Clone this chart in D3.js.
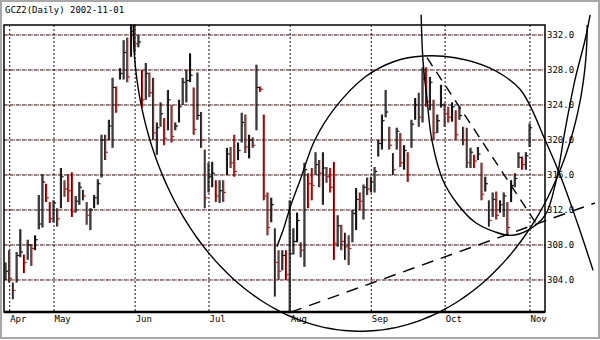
<!DOCTYPE html>
<html>
<head>
<meta charset="utf-8">
<script src="https://cdn.jsdelivr.net/npm/d3@7"></script>
<style>
  body { margin: 0; background: #fff; }
  text { font-family: "DejaVu Sans Mono", monospace; }
</style>
</head>
<body>
<div id="chart"></div>
<script>
// GCZ2 daily bars, one entry per trading day (index 0 = last day before the "Apr" line)
const highs = [
  306.0, 307.4, 303.7, 307.2, 309.8, 306.9, 308.6, 308.1, 309.1, 313.7,
  316.1, 315.0, 312.9, 313.1, 312.2, 316.8, 315.4, 316.1, 316.3, 313.6,
  315.2, 314.3, 312.9, 312.2, 313.7, 315.5, 320.6, 320.6, 322.3, 327.1,
  326.1, 328.2, 331.4, 331.7, 333.2, 333.2, 332.0, 328.0, 328.8, 327.7,
  327.1, 322.0, 324.3, 322.5, 325.7, 324.0, 322.0, 324.6, 327.1, 328.0,
  329.9, 326.0, 327.7, 323.2, 318.9, 317.4, 317.5, 315.4, 315.4, 315.4,
  319.1, 319.2, 320.6, 319.7, 323.1, 322.9, 320.6, 320.3, 328.6, 326.1,
  322.9, 314.0, 313.4, 309.9, 307.4, 307.4, 307.4, 313.1, 309.9, 311.7,
  308.3, 317.4, 316.2, 316.8, 318.6, 317.7, 318.6, 316.9, 316.8, 317.5,
  311.4, 310.3, 309.4, 309.1, 312.0, 314.5, 314.0, 314.9, 315.7, 315.8,
  316.9, 320.0, 322.9, 325.7, 321.5, 318.5, 321.4, 320.8, 319.4, 318.6,
  322.3, 324.8, 325.4, 328.3, 328.3, 327.2, 324.6, 322.9, 326.3, 324.2,
  323.8, 324.3, 323.4, 323.8, 321.5, 321.4, 319.1, 318.3, 319.2, 317.4,
  315.8, 313.1, 314.0, 314.1, 313.1, 314.0, 312.9, 315.4, 316.2, 318.6,
  318.1, 318.6, 321.9
];
const lows = [
  304.0, 303.7, 301.8, 303.7, 306.6, 304.8, 306.3, 305.6, 307.4, 309.8,
  310.0, 312.9, 310.5, 310.6, 310.1, 312.2, 313.5, 312.9, 311.2, 311.7,
  312.6, 313.1, 310.3, 309.7, 312.2, 312.6, 315.7, 317.7, 320.0, 319.1,
  323.1, 326.9, 326.9, 326.6, 329.5, 330.0, 330.6, 323.7, 324.6, 324.9,
  320.0, 318.3, 321.5, 319.4, 321.1, 319.7, 321.1, 322.0, 324.0, 324.3,
  326.6, 320.6, 322.3, 319.1, 312.2, 314.0, 314.6, 312.9, 312.8, 312.9,
  316.0, 316.8, 315.8, 317.7, 319.7, 318.5, 317.9, 319.1, 321.1, 325.5,
  313.1, 309.1, 310.6, 302.1, 304.0, 305.1, 304.0, 300.2, 306.9, 308.3,
  306.6, 305.5, 312.2, 313.1, 316.0, 314.6, 312.6, 315.1, 314.0, 306.3,
  307.8, 307.4, 306.3, 305.7, 308.3, 309.7, 312.0, 310.9, 313.7, 314.0,
  314.0, 318.1, 318.9, 322.6, 318.9, 316.0, 318.9, 316.9, 316.6, 315.2,
  319.1, 322.3, 321.5, 322.0, 323.8, 323.4, 320.0, 320.8, 323.7, 321.5,
  322.0, 322.1, 320.0, 322.3, 319.4, 316.8, 316.8, 316.8, 317.7, 313.1,
  314.1, 310.1, 311.2, 310.9, 311.7, 311.2, 309.1, 312.9, 314.6, 316.8,
  316.6, 316.6, 319.2
];
const closes = [
  305.0, 304.2, 302.8, 306.8, 307.2, 306.0, 308.0, 307.6, 308.6, 310.4,
  315.2, 313.4, 311.0, 312.8, 311.0, 315.8, 314.4, 314.2, 311.8, 313.0,
  314.6, 313.6, 311.4, 312.0, 313.4, 315.0, 320.0, 318.6, 321.6, 326.0,
  324.0, 327.6, 330.0, 327.2, 332.4, 331.0, 331.2, 324.6, 327.6, 325.4,
  320.8, 321.4, 323.0, 320.2, 324.6, 320.4, 321.6, 323.8, 326.6, 326.8,
  327.4, 321.2, 322.8, 320.0, 313.4, 315.8, 316.2, 313.6, 314.2, 314.0,
  318.4, 317.4, 316.4, 318.8, 322.0, 319.2, 320.0, 319.4, 326.0, 325.8,
  313.6, 310.0, 312.6, 306.0, 305.0, 306.8, 304.6, 307.0, 308.4, 310.8,
  307.4, 316.6, 315.0, 314.8, 317.2, 316.2, 316.8, 315.8, 314.6, 308.2,
  310.2, 308.4, 307.8, 307.6, 311.6, 313.2, 313.0, 314.6, 314.4, 315.2,
  316.4, 319.6, 322.2, 323.2, 319.4, 316.6, 321.0, 317.4, 318.8, 316.0,
  321.8, 324.0, 322.6, 327.0, 324.4, 326.6, 320.8, 322.2, 324.0, 323.0,
  322.6, 323.8, 320.6, 322.8, 320.0, 317.4, 318.6, 317.6, 318.4, 313.8,
  315.0, 310.8, 313.2, 311.4, 312.6, 313.6, 310.0, 314.8, 315.6, 318.0,
  317.2, 318.2, 321.4
];

const monthIdx = [1, 13, 35, 55, 77, 99, 119, 142];
const monthLabels = ["Apr", "May", "Jun", "Jul", "Aug", "Sep", "Oct", "Nov"];
const priceTicks = [304, 308, 312, 316, 320, 324, 328, 332];

// hand drawn studies, in (bar index, price)
const bigEllipse = [96, 333.14, 61.5, 35]; // centre idx, centre price, radius idx, radius price
const smallArcIdx = [112.5, 113.0, 114.1, 115.4, 118.4, 122.5, 127.1, 132.5, 136.6, 141.5, 146.1, 149.1, 151.5, 154.2, 156.9, 158.3];
const smallArcPrice = [334.3, 329.1, 324.6, 320.0, 315.4, 312.6, 310.6, 309.5, 309.1, 309.7, 311.4, 315.4, 321.1, 326.9, 331.4, 334.3];
const midArcIdx = [73.4, 75.1, 77.0, 79.7, 83.7, 89.2, 97.3, 105.4, 113.0, 121.7, 131.2, 139.3, 146.1, 150.7, 155.0, 159.1];
const midArcPrice = [307.8, 309.7, 312.3, 315.4, 320.0, 323.7, 327.2, 329.0, 329.6, 329.4, 328.2, 325.8, 320.0, 315.4, 310.3, 305.1];
const trendIdx = [77, 159.6];
const trendPrice = [300.3, 312.8];
const fallIdx = [114.1, 143.9];
const fallPrice = [329.4, 310.3];

const W = 600, H = 340;
const plotL = 4, plotR = 545, plotT = 25, plotB = 312;

const svg = d3.select("#chart").append("svg")
  .attr("width", W).attr("height", H);

const x = d3.scaleLinear().domain([0, 142]).range([6, 530]);
const y = d3.scaleLinear().domain([300.34, 333.14]).range([plotB, plotT]);

// grid
const grid = svg.append("g");
priceTicks.forEach(v => {
  grid.append("line").attr("x1", plotL).attr("x2", plotR).attr("y1", y(v)).attr("y2", y(v))
    .attr("stroke", "#d22").attr("stroke-width", 1).attr("stroke-dasharray", "2,4").attr("stroke-dashoffset", -3);
  grid.append("line").attr("x1", plotL).attr("x2", plotR).attr("y1", y(v)).attr("y2", y(v))
    .attr("stroke", "#111").attr("stroke-width", 1).attr("stroke-dasharray", "3,3");
});
monthIdx.forEach(i => {
  grid.append("line").attr("x1", x(i)).attr("x2", x(i)).attr("y1", plotT).attr("y2", plotB)
    .attr("stroke", "#111").attr("stroke-width", 1).attr("stroke-dasharray", "2,2");
});

// bars: black, down days carry a red edge like the printed original
const bars = svg.append("g");
highs.forEach((h, i) => {
  const down = i > 0 && closes[i] < closes[i - 1];
  bars.append("line").attr("x1", x(i)).attr("x2", x(i)).attr("y1", y(lows[i])).attr("y2", y(h))
    .attr("stroke", down ? "#c81414" : "#111").attr("stroke-width", 1.2);
  bars.append("line").attr("x1", x(i) - 1).attr("x2", x(i) - 1).attr("y1", y(lows[i])).attr("y2", y(h))
    .attr("stroke", "#111").attr("stroke-width", 1);
  bars.append("line").attr("x1", x(i)).attr("x2", x(i) + 2.2).attr("y1", y(closes[i])).attr("y2", y(closes[i]))
    .attr("stroke", down ? "#c81414" : "#111").attr("stroke-width", 1.2);
});

// studies
const studies = svg.append("g").attr("fill", "none").attr("stroke", "#000").attr("stroke-width", 1.4);
const curve = d3.line().x(d => x(d[0])).y(d => y(d[1])).curve(d3.curveCatmullRom);
const [ecx, ecy, erx, ery] = bigEllipse;
studies.append("path")
  .attr("d", curve(d3.range(0, 181, 2).map(a => {
    const t = a * Math.PI / 180;
    return [ecx + erx * Math.cos(t), ecy - ery * Math.sin(t)];
  })));
studies.append("path").attr("d", curve(smallArcIdx.map((v, i) => [v, smallArcPrice[i]])));
studies.append("path").attr("d", curve(midArcIdx.map((v, i) => [v, midArcPrice[i]])));
studies.append("path").attr("d", d3.line().x(d => x(d[0])).y(d => y(d[1]))(trendIdx.map((v, i) => [v, trendPrice[i]])))
  .attr("stroke-dasharray", "12,8");
studies.append("path").attr("d", d3.line().x(d => x(d[0])).y(d => y(d[1]))(fallIdx.map((v, i) => [v, fallPrice[i]])))
  .attr("stroke-dasharray", "10,7");

// frame
svg.append("rect").attr("x", plotL).attr("y", plotT).attr("width", plotR - plotL).attr("height", plotB - plotT)
  .attr("fill", "none").attr("stroke", "#000").attr("stroke-width", 1.5);
svg.append("line").attr("x1", plotL).attr("x2", plotR).attr("y1", plotB).attr("y2", plotB)
  .attr("stroke", "#000").attr("stroke-width", 2.5);
svg.append("rect").attr("x", 1).attr("y", 1).attr("width", W - 2).attr("height", H - 3)
  .attr("fill", "none").attr("stroke", "#a8a8a8").attr("stroke-width", 2);

// axes
const yAxis = svg.append("g").attr("transform", `translate(${plotR},0)`)
  .call(d3.axisRight(y).tickValues(priceTicks).tickFormat(d3.format(".1f")).tickSize(0).tickPadding(2));
yAxis.select(".domain").remove();
yAxis.selectAll("text").attr("font-family", "DejaVu Sans Mono, monospace").attr("font-size", 9).attr("fill", "#000");

const xAxis = svg.append("g").attr("transform", `translate(0,${plotB})`)
  .call(d3.axisBottom(x).tickValues(monthIdx).tickFormat((d, i) => monthLabels[i]).tickSize(0).tickPadding(4));
xAxis.select(".domain").remove();
xAxis.selectAll("text").attr("text-anchor", "start")
  .attr("font-family", "DejaVu Sans Mono, monospace").attr("font-size", 9).attr("fill", "#000");

svg.append("text").attr("x", 5).attr("y", 13)
  .attr("font-size", 9).attr("fill", "#000")
  .text("GCZ2(Daily) 2002-11-01");
</script>
</body>
</html>
